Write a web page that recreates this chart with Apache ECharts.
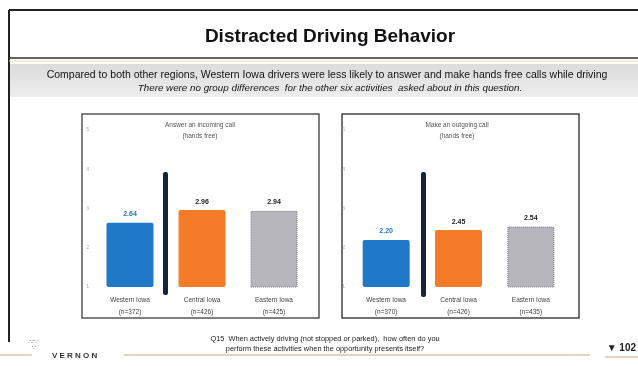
<!DOCTYPE html>
<html>
<head>
<meta charset="utf-8">
<script src="https://cdn.jsdelivr.net/npm/echarts@6/dist/echarts.min.js"></script>
<style>
  html, body { margin: 0; padding: 0; background: #fff; }
  #chart { width: 638px; height: 366px; }
</style>
</head>
<body>
<div id="chart"></div>
<script>
var chart = echarts.init(document.getElementById('chart'));

// data
var leftCategories = ['Western Iowa\n(n=372)', 'Central Iowa\n(n=426)', 'Eastern Iowa\n(n=425)'];
var rightCategories = ['Western Iowa\n(n=370)', 'Central Iowa\n(n=426)', 'Eastern Iowa\n(n=435)'];
var incomingValues = [2.64, 2.96, 2.94];
var outgoingValues = [2.20, 2.45, 2.54];
var yTicks = [1, 2, 3, 4, 5];

var barColors = ['#1f78c8', '#f47b28', '#b6b6bc'];
var labelColors = ['#1f78c8', '#222', '#222'];

var FONT = '"Liberation Sans", Arial, sans-serif';

function makeData(values) {
    return values.map(function (v, i) {
        return {
            value: v,
            itemStyle: {
                color: barColors[i],
                borderRadius: i == 2 ? 0 : 2,
                borderColor: i == 2 ? '#7a7a80' : barColors[i],
                borderWidth: i == 2 ? 1 : 0,
                borderType: 'dotted'
            },
            label: { color: labelColors[i] }
        };
    });
}

function barSeries(values, idx) {
    return {
        type: 'bar',
        xAxisIndex: idx,
        yAxisIndex: idx,
        barWidth: 47,
        data: makeData(values),
        label: {
            show: true,
            position: 'top',
            distance: 5,
            fontFamily: FONT,
            fontSize: 7,
            fontWeight: 'bold',
            formatter: function (p) { return p.value.toFixed(2); }
        },
        silent: true
    };
}

function xAxis(cats, idx) {
    return {
        type: 'category',
        gridIndex: idx,
        data: cats,
        axisLine: { show: false },
        axisTick: { show: false },
        axisLabel: {
            margin: 7,
            fontFamily: FONT,
            fontSize: 6.5,
            lineHeight: 12,
            color: '#444'
        }
    };
}

function yAxis(idx) {
    return {
        type: 'value',
        gridIndex: idx,
        min: yTicks[0],
        max: yTicks[yTicks.length - 1],
        interval: 1,
        axisLine: { show: false },
        axisTick: { show: false },
        splitLine: { show: false },
        axisLabel: { margin: 5, fontFamily: FONT, fontSize: 5, color: '#aaa' }
    };
}

var option = {
    backgroundColor: '#fff',
    animation: false,
    grid: [
        { left: 94, width: 216, top: 130, bottom: 79 },
        { left: 350, width: 217, top: 130, bottom: 79 }
    ],
    xAxis: [xAxis(leftCategories, 0), xAxis(rightCategories, 1)],
    yAxis: [yAxis(0), yAxis(1)],
    series: [barSeries(incomingValues, 0), barSeries(outgoingValues, 1)],
    graphic: [
        // slide frame
        { type: 'line', shape: { x1: 9, y1: 10, x2: 638, y2: 10 }, style: { stroke: '#222', lineWidth: 2 } },
        { type: 'line', shape: { x1: 9, y1: 10, x2: 9, y2: 342 }, style: { stroke: '#222', lineWidth: 2 } },
        { type: 'line', shape: { x1: 9, y1: 58, x2: 638, y2: 58 }, style: { stroke: '#333', lineWidth: 1.5 } },
        { type: 'line', shape: { x1: 9, y1: 61, x2: 638, y2: 61 }, style: { stroke: '#e4dcc0', lineWidth: 1 } },
        {
            type: 'rect', shape: { x: 10, y: 64, width: 628, height: 33 },
            style: {
                fill: new echarts.graphic.LinearGradient(0, 0, 0, 1, [
                    { offset: 0, color: '#dcdcdc' },
                    { offset: 1, color: '#eeeeee' }
                ])
            }
        },
        {
            type: 'text', x: 330, y: 37,
            style: { text: 'Distracted Driving Behavior', font: 'bold 19px ' + FONT, fill: '#111', align: 'center', verticalAlign: 'middle' }
        },
        {
            type: 'text', x: 327, y: 75,
            style: {
                text: 'Compared to both other regions, Western Iowa drivers were less likely to answer and make hands free calls while driving',
                font: '10.5px ' + FONT, fill: '#111', align: 'center', verticalAlign: 'middle'
            }
        },
        {
            type: 'text', x: 330, y: 88,
            style: {
                text: 'There were no group differences  for the other six activities  asked about in this question.',
                font: 'italic 9.8px ' + FONT, fill: '#111', align: 'center', verticalAlign: 'middle'
            }
        },
        // chart panels
        { type: 'rect', shape: { x: 82, y: 114, width: 237, height: 204 }, style: { fill: 'none', stroke: '#555', lineWidth: 1.5 } },
        { type: 'rect', shape: { x: 342, y: 114, width: 237, height: 204 }, style: { fill: 'none', stroke: '#444', lineWidth: 1.5 } },
        {
            type: 'text', x: 200, y: 131,
            style: { text: 'Answer an incoming call\n(hands free)', font: '6.5px ' + FONT, lineHeight: 11, fill: '#555', align: 'center', verticalAlign: 'middle' }
        },
        {
            type: 'text', x: 457, y: 131,
            style: { text: 'Make an outgoing call\n(hands free)', font: '6.5px ' + FONT, lineHeight: 11, fill: '#555', align: 'center', verticalAlign: 'middle' }
        },
        // dark separators between Western and the other regions
        { type: 'rect', shape: { x: 163, y: 172, width: 5, height: 123, r: 2 }, style: { fill: '#16233a' } },
        { type: 'rect', shape: { x: 421, y: 172, width: 5, height: 125, r: 2 }, style: { fill: '#16233a' } },
        // footer
        { type: 'line', shape: { x1: 0, y1: 355, x2: 32, y2: 355 }, style: { stroke: '#c9a77a', lineWidth: 1 } },
        { type: 'line', shape: { x1: 124, y1: 355, x2: 590, y2: 355 }, style: { stroke: '#c9a77a', lineWidth: 1 } },
        { type: 'line', shape: { x1: 605, y1: 357, x2: 638, y2: 357 }, style: { stroke: '#c9a77a', lineWidth: 1 } },
        {
            type: 'text', x: 325, y: 344,
            style: {
                text: 'Q15  When actively driving (not stopped or parked),  how often do you\nperform these activities when the opportunity presents itself?',
                font: '7.4px ' + FONT, lineHeight: 10, fill: '#222', align: 'center', verticalAlign: 'middle'
            }
        },
        {
            type: 'text', x: 52, y: 356,
            style: { text: 'V E R N O N', font: 'bold 8px ' + FONT, fill: '#333', verticalAlign: 'middle' }
        },
        {
            type: 'text', x: 30, y: 338,
            style: { text: '∵∵\n ∵', font: '6px ' + FONT, lineHeight: 6, fill: '#777' }
        },
        {
            type: 'text', x: 636, y: 348,
            style: { text: '▼ 102', font: 'bold 10px ' + FONT, fill: '#222', align: 'right', verticalAlign: 'middle' }
        }
    ]
};

chart.setOption(option);
</script>
</body>
</html>
